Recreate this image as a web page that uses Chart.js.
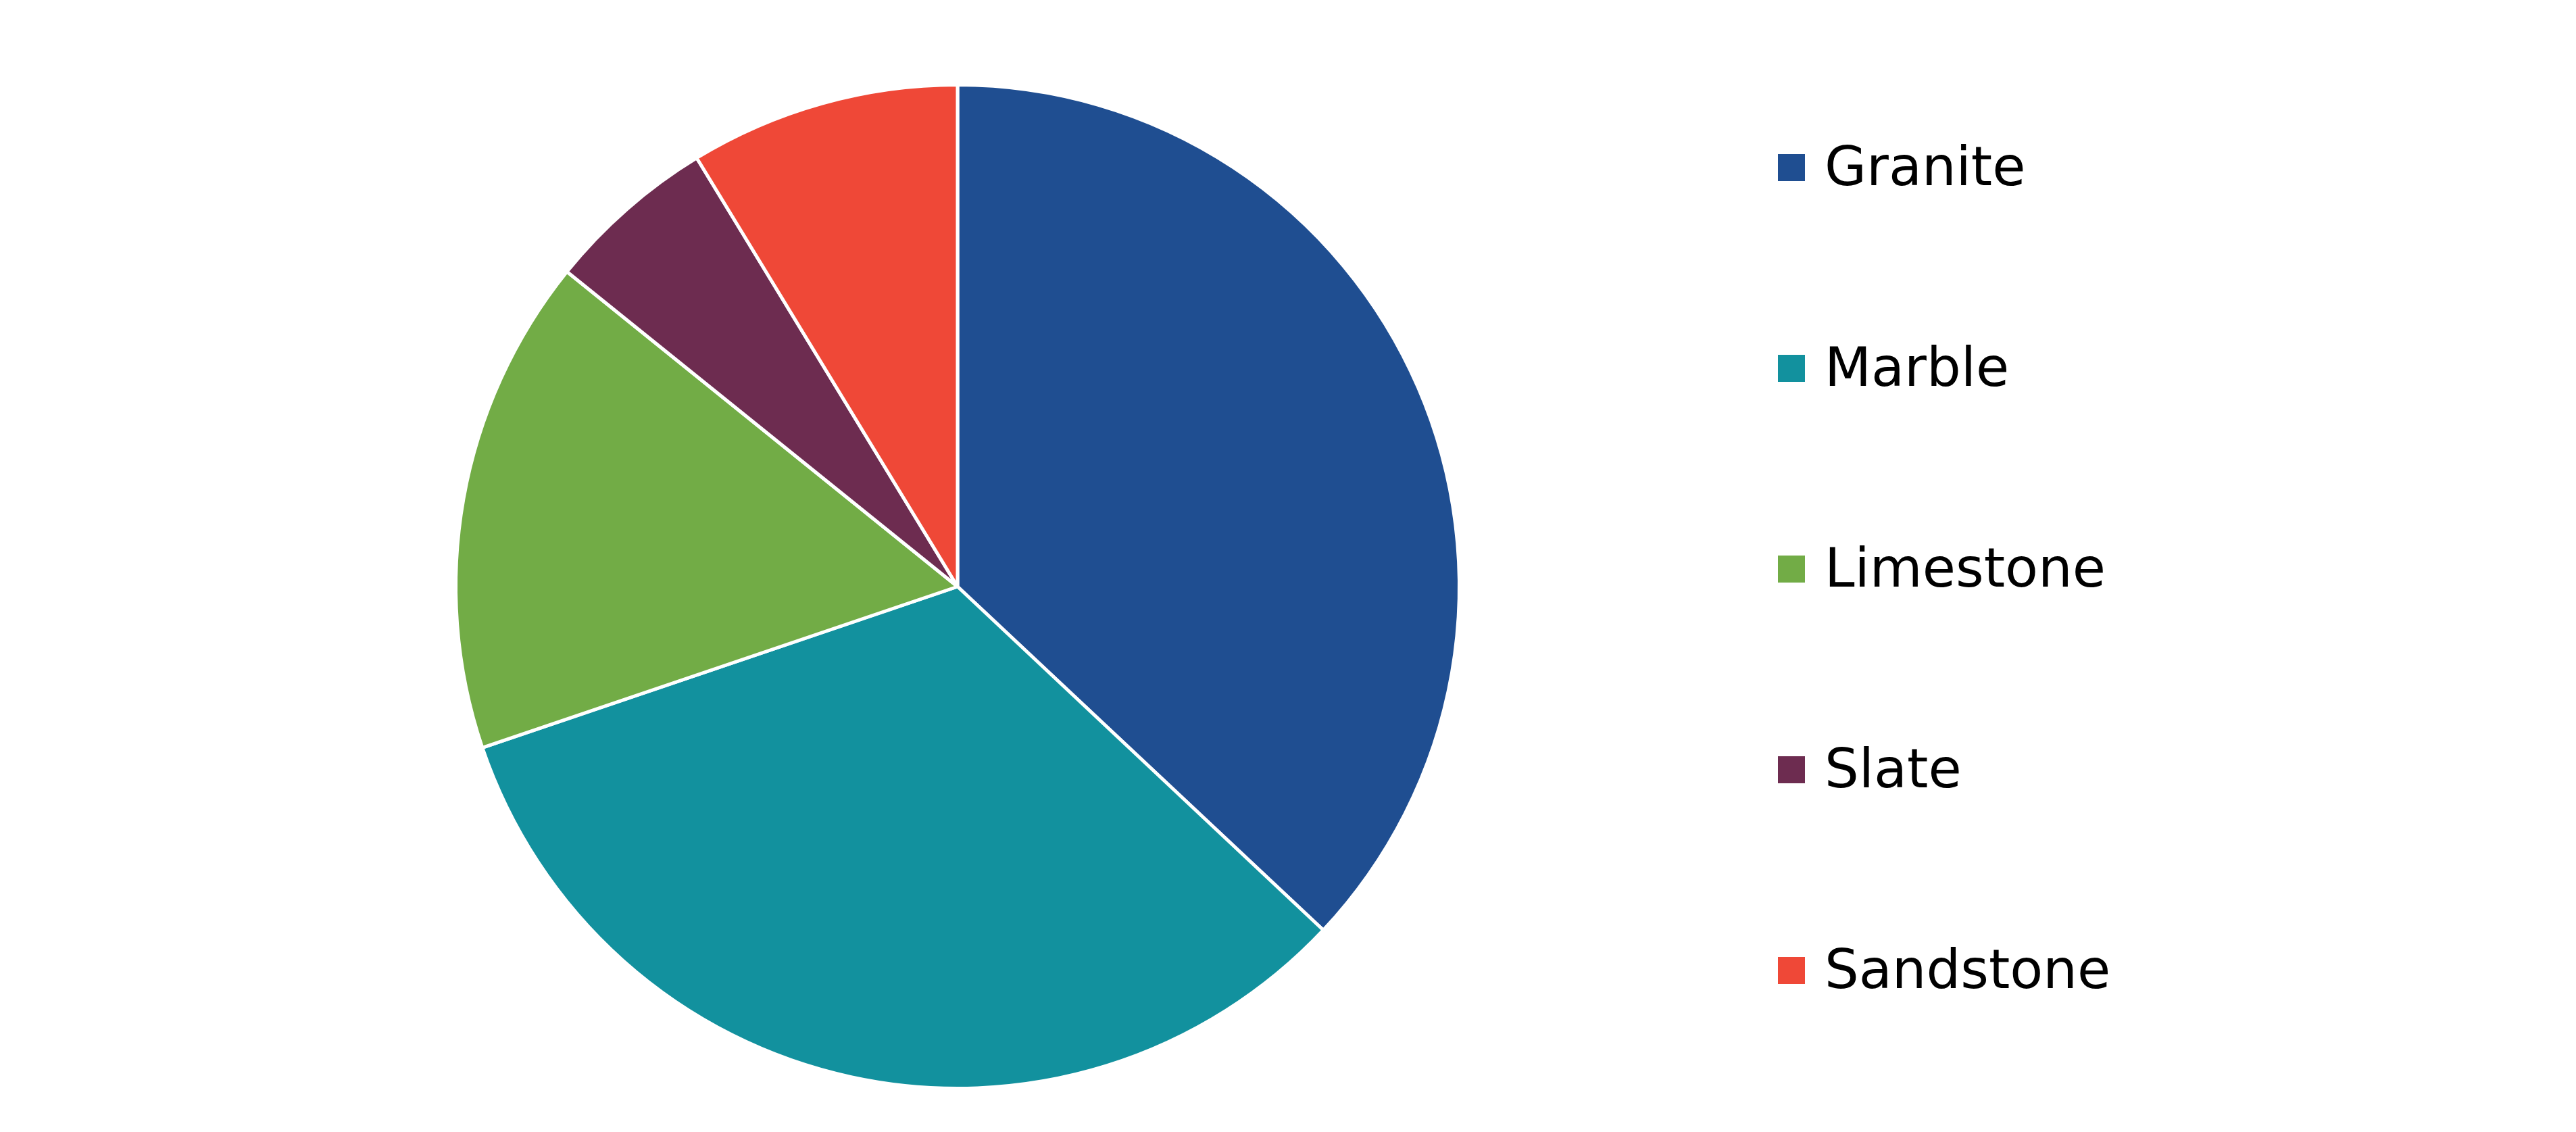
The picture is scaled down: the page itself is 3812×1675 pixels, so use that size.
<!DOCTYPE html>
<html>
<head>
<meta charset="utf-8">
<script src="https://cdn.jsdelivr.net/npm/chart.js@4/dist/chart.umd.min.js"></script>
<style>
  html, body { margin:0; padding:0; background:#fff; }
  #wrap { position:relative; width:3812px; height:1675px; }
  #legend { position:absolute; left:2631px; top:200px; font-family:"DejaVu Sans", Verdana, sans-serif; font-size:80px; color:#000; }
  #legend div { height:297px; display:flex; align-items:flex-start; }
  #legend span.box { display:inline-block; width:40px; height:40px; margin-top:28px; margin-right:29px; }
</style>
</head>
<body>
<div id="wrap">
  <canvas id="pie" width="3812" height="1675"></canvas>
  <div id="legend"></div>
</div>
<script>
const categorias = ['Granite', 'Marble', 'Limestone', 'Slate', 'Sandstone'];
const valores = [37.0, 32.8, 16.0, 5.5, 8.7];
const colores = ['#1f4e91', '#12919e', '#72ac46', '#6d2c50', '#ef4837'];

// leyenda armada con los mismos arreglos
let html = '';
categorias.forEach((c, i) => {
  html += '<div><span class="box" style="background:' + colores[i] + '"></span>' + c + '</div>';
});
document.getElementById('legend').innerHTML = html;

const ctx = document.getElementById('pie').getContext('2d');
new Chart(ctx, {
  type: 'pie',
  data: {
    labels: categorias,
    datasets: [{
      data: valores,
      backgroundColor: colores,
      borderColor: '#ffffff',
      borderWidth: 5
    }]
  },
  options: {
    responsive: false,
    animation: false,
    devicePixelRatio: 1,
    layout: { padding: { left: 672, right: 1650, top: 123, bottom: 62 } },
    plugins: { legend: { display: false }, tooltip: { enabled: false } }
  }
});
</script>
</body>
</html>
